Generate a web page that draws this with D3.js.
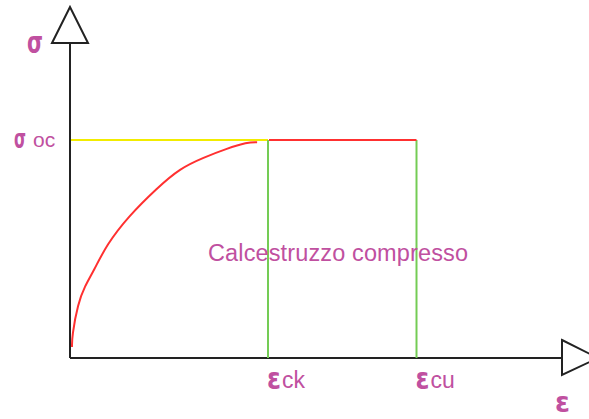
<!DOCTYPE html>
<html>
<head>
<meta charset="utf-8">
<script src="https://cdn.jsdelivr.net/npm/d3@7"></script>
<style>
body { margin: 0; background: #fff; }
</style>
</head>
<body>
<svg id="chart" width="589" height="419"></svg>
<script>
// strain in per mille, stress as a fraction of sigma_oc
var curveStrain = [0.02, 0.02, 0.08, 0.15, 0.24, 0.37, 0.59, 0.88, 1.11, 1.35, 1.58, 1.79, 1.89];
var curveStress = [0.05, 0.10, 0.25, 0.33, 0.40, 0.52, 0.65, 0.78, 0.87, 0.92, 0.96, 0.99, 0.99];
var strainMarks = [2, 3.5];
var strainLabels = ["ck", "cu"];
var stressPeak = 1;
var stressLabel = "oc";
var regionLabel = "Calcestruzzo compresso";

var purple = "#c050a0";

var svg = d3.select("#chart");

// 1 per mille ~ 99px, origin at (70,358)
var x = d3.scaleLinear().domain([0, 5]).range([70, 565]);
var y = d3.scaleLinear().domain([0, 1]).range([358, 140]);

// axes
svg.append("line")
  .attr("x1", x(0)).attr("y1", 43)
  .attr("x2", x(0)).attr("y2", y(0))
  .attr("stroke", "#222").attr("stroke-width", 2);
svg.append("line")
  .attr("x1", x(0)).attr("y1", y(0))
  .attr("x2", 562).attr("y2", y(0))
  .attr("stroke", "#222").attr("stroke-width", 2);

// open arrow heads
svg.append("path")
  .attr("d", "M" + (x(0) - 18) + ",43 L" + x(0) + ",7 L" + (x(0) + 18) + ",43 Z")
  .attr("fill", "none").attr("stroke", "#222").attr("stroke-width", 2);
svg.append("path")
  .attr("d", "M562," + (y(0) - 18) + " L598," + y(0) + " L562," + (y(0) + 17) + " Z")
  .attr("fill", "none").attr("stroke", "#222").attr("stroke-width", 2);

// yellow reference at sigma_oc
svg.append("line")
  .attr("x1", x(0) + 1).attr("y1", y(stressPeak))
  .attr("x2", x(strainMarks[0])).attr("y2", y(stressPeak))
  .attr("stroke", "#f2ec00").attr("stroke-width", 2);

// green verticals
svg.selectAll(".mark")
  .data(strainMarks)
  .enter()
  .append("line")
    .attr("x1", function (d) { return x(d); })
    .attr("x2", function (d) { return x(d); })
    .attr("y1", y(stressPeak))
    .attr("y2", y(0))
    .attr("stroke", "#74cc55").attr("stroke-width", 2);

// red plateau
svg.append("line")
  .attr("x1", x(strainMarks[0]) + 1).attr("y1", y(stressPeak))
  .attr("x2", x(strainMarks[1])).attr("y2", y(stressPeak))
  .attr("stroke", "#ff3030").attr("stroke-width", 2);

// red parabola
var pts = curveStrain.map(function (d, i) { return [d, curveStress[i]]; });
var line = d3.line()
  .x(function (d) { return x(d[0]); })
  .y(function (d) { return y(d[1]); })
  .curve(d3.curveBasis);
svg.append("path")
  .datum(pts)
  .attr("d", line)
  .attr("fill", "none")
  .attr("stroke", "#ff3030").attr("stroke-width", 2);

// labels
var greek = "'DejaVu Sans', sans-serif";
var latin = "'Liberation Sans', Arial, sans-serif";

function sym(ch, px, py, w, fs) {
  svg.append("text")
    .attr("x", px).attr("y", py)
    .attr("font-family", greek).attr("font-weight", "bold").attr("font-size", fs)
    .attr("textLength", w).attr("lengthAdjust", "spacingAndGlyphs")
    .attr("fill", purple).text(ch);
}

sym("σ", 27, 53, 16, 30);
sym("σ", 14, y(stressPeak) + 8, 12, 26);
svg.append("text")
  .attr("x", 33).attr("y", y(stressPeak) + 7)
  .attr("font-family", latin).attr("font-size", 21)
  .attr("fill", purple).text(stressLabel);

strainMarks.forEach(function (d) { sym("ε", x(d) - 1, y(0) + 31, 14, 30); });
svg.selectAll(".epsSub")
  .data(strainMarks)
  .enter()
  .append("text")
    .attr("x", function (d) { return x(d) + 14; })
    .attr("y", y(0) + 30)
    .attr("font-family", latin).attr("font-size", 23)
    .attr("fill", purple).text(function (d, i) { return strainLabels[i]; });

sym("ε", 555, 412, 15, 28);

svg.append("text")
  .attr("x", 208).attr("y", 261)
  .attr("font-family", latin).attr("font-size", 23.5)
  .attr("textLength", 260).attr("lengthAdjust", "spacing")
  .attr("fill", purple).text(regionLabel);
</script>
</body>
</html>
